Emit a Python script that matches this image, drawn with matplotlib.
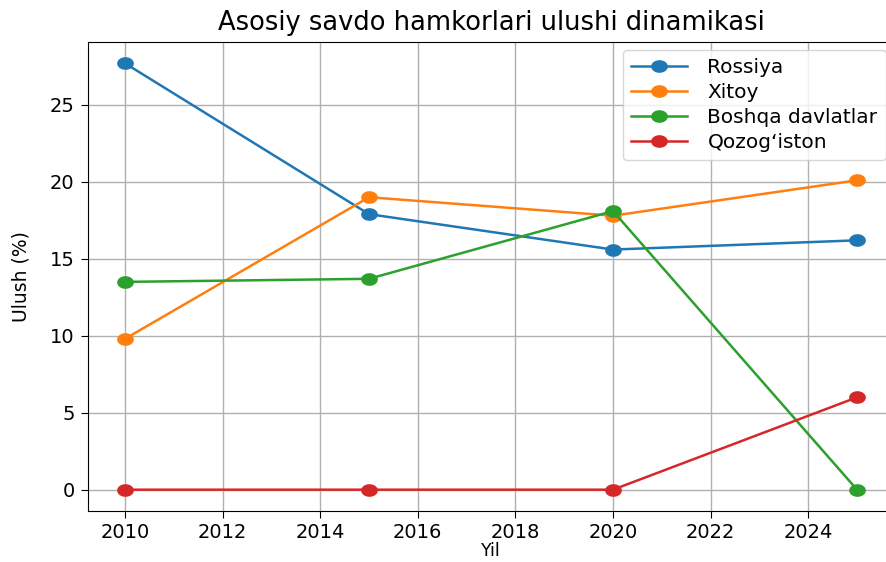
import matplotlib
matplotlib.use("Agg")
import matplotlib.pyplot as plt
import numpy as np
from matplotlib.path import Path

years = [2010, 2015, 2020, 2025]
rossiya = [27.7, 17.9, 15.6, 16.2]
xitoy = [9.8, 19.0, 17.8, 20.1]
boshqa = [13.5, 13.7, 18.1, 0.0]
qozog = [0.0, 0.0, 0.0, 6.0]
series_names = ["Rossiya", "Xitoy", "Boshqa davlatlar", "Qozog\u2018iston"]
colors = ["#1f77b4", "#ff7f0e", "#2ca02c", "#d62728"]

# slightly wide elliptical marker (reference is horizontally stretched)
t = np.linspace(0, 2 * np.pi, 60)
ell = Path(np.column_stack([1.36 * np.cos(t), np.sin(t)]), closed=True)

fig = plt.figure(figsize=(8.86, 5.62), dpi=100)
ax = fig.add_axes([88.4 / 886, 51 / 562, 805.2 / 886, 469 / 562])

for vals, name, c in zip([rossiya, xitoy, boshqa, qozog], series_names, colors):
    ax.plot(years, vals, color=c, marker=ell, markersize=11, linewidth=1.8, label=name)

ax.set_title("Asosiy savdo hamkorlari ulushi dinamikasi", fontsize=18.5, pad=9)
ax.set_xlabel("Yil", fontsize=12.5, labelpad=0)
ax.set_ylabel("Ulush (%)", fontsize=13.5, labelpad=14)
ax.tick_params(labelsize=14, length=5, pad=5)
ax.tick_params(axis="x", pad=4)
ax.set_xticks([2010, 2012, 2014, 2016, 2018, 2020, 2022, 2024])
ax.set_yticks([0, 5, 10, 15, 20, 25])
ax.grid(True, color="#b0b0b0", linewidth=1)
ax.legend(loc="upper right", fontsize=14.5, labelspacing=0.3, handlelength=2.8,
          handletextpad=1.0, borderaxespad=0.4)

fig.savefig("out.png", dpi=100)
